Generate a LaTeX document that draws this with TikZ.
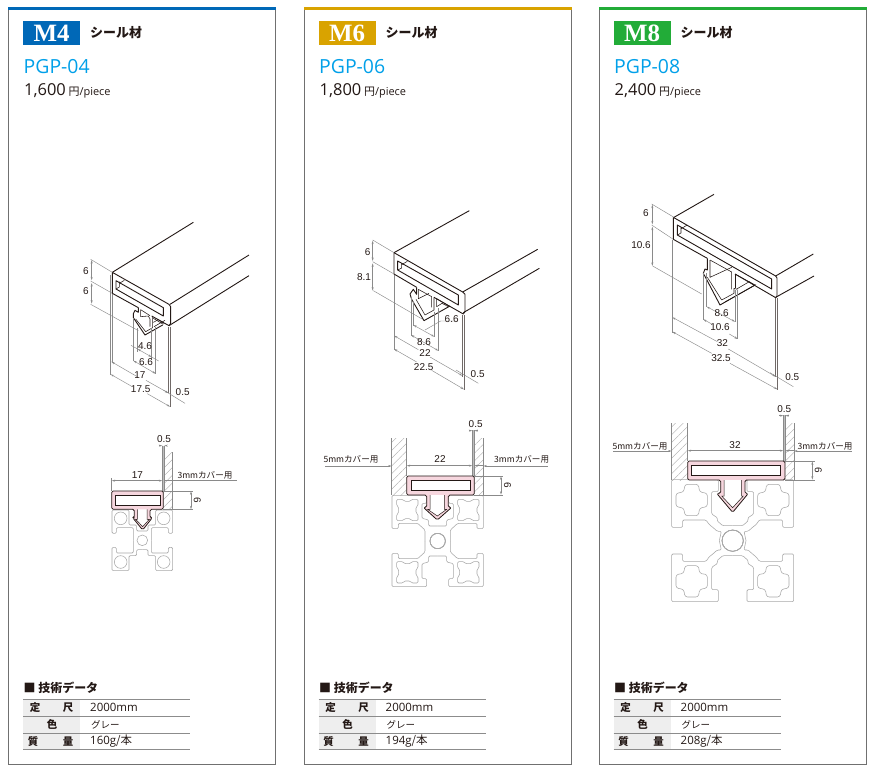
\documentclass[tikz,border=0pt]{standalone}
\usepackage{fontspec}
\setmainfont{Liberation Sans}
\newfontfamily\cjkf{Noto Sans CJK JP}
\newfontfamily\serf{Liberation Serif}
\newfontfamily\numf{Open Sans}
\usetikzlibrary{arrows.meta,patterns.meta}
\definecolor{inkc}{HTML}{231815}
\definecolor{dimc}{HTML}{8A8A8A}
\definecolor{hatchc}{HTML}{A6A6A6}
\definecolor{profc}{HTML}{A8A8A8}
\definecolor{sealc}{HTML}{F6D6DE}
\definecolor{framec}{HTML}{707070}
\definecolor{pgpc}{HTML}{00A0E9}
\definecolor{rulec}{HTML}{8C8C8C}
\definecolor{cellc}{HTML}{EEEEEE}
\definecolor{stripc}{HTML}{BDBDBD}
\definecolor{mfour}{HTML}{0068B7}
\definecolor{msix}{HTML}{D9A300}
\definecolor{meight}{HTML}{22AC38}
\tikzset{
 outl/.style={draw=inkc,line width=.9bp,line join=round},
 thin ink/.style={draw=inkc,line width=.55bp,line join=round},
 dimln/.style={draw=dimc,line width=.45bp,>={Stealth[length=3.5bp,width=2bp]}},
 heavydim/.style={draw=inkc!65,line width=.8bp},
 prof/.style={draw=profc,line width=.55bp,rounded corners=1.2bp},
 seal/.style={fill=sealc,draw=inkc,line width=.8bp,line join=round},
 hole/.style={fill=white,draw=inkc,line width=.5bp},
 cover/.style={pattern={Lines[angle=45,distance=5.5bp,line width=.35bp]},pattern color=hatchc},
 dimt/.style={font=\fontsize{10}{11}\selectfont,text=inkc,inner sep=0pt},
 covt/.style={font=\fontsize{8.6}{10}\selectfont\cjkf,text=inkc,inner sep=0pt},
 cellt/.style={font=\fontsize{10.5}{11}\selectfont\cjkf\bfseries,text=inkc,inner sep=0pt},
 valt/.style={font=\fontsize{11.5}{12}\selectfont\numf,text=inkc,inner sep=0pt,anchor=west},
}
% #1 prefix #2 dx #3 colour #4 M #5 PGP #6 price #7 mass
\newcommand{\panelbox}[7]{%
\begin{scope}[shift={(#2,0)}]
 \draw[framec,line width=.9bp] (8.8,8) rectangle (275.6,764.5);
 \fill[#3] (8.3,7) rectangle (276,10);
 \node[fill=#3,minimum width=57bp,minimum height=24bp,inner sep=0pt,text=white,font=\fontsize{25}{26}\selectfont\serf\bfseries,anchor=north west] (#1badge) at (23,21) {#4};
 \node[anchor=west,inner sep=0pt,text=inkc,font=\fontsize{13}{14}\selectfont\cjkf\bfseries] (#1kind) at (90,33) {シール材};
 \node[anchor=west,inner sep=0pt,text=pgpc,font=\fontsize{19.5}{22}\selectfont\numf] (#1pgp) at (23.5,67) {#5};
 \node[anchor=west,inner sep=0pt,text=inkc,font=\fontsize{16.5}{18}\selectfont\numf] (#1price) at (24,91) {#6\,{\fontsize{11}{12}\selectfont\cjkf 円}{\fontsize{11}{12}\selectfont/piece}};
 \node[anchor=west,inner sep=0pt,text=inkc,font=\fontsize{12}{13}\selectfont\cjkf\bfseries] (#1tech) at (23.5,688) {■ 技術データ};
 \fill[cellc] (23,699.5) rectangle (80,750);
 \foreach \yy in {699.5,716.2,733,749.8} \draw[rulec,line width=.7bp] (23,\yy) -- (190,\yy);
 \node[cellt] (#1a1) at (35,707.8) {定};
 \node[cellt] (#1a2) at (68,707.8) {尺};
 \node[cellt] (#1b1) at (52,724.6) {色};
 \node[cellt] (#1c1) at (33,741.4) {質};
 \node[cellt] (#1c2) at (68,741.4) {量};
 \node[valt] (#1v1) at (90,707.8) {2000mm};
 \node[valt,font=\fontsize{9.5}{11}\selectfont\cjkf] (#1v2) at (91,724.6) {グレー};
 \node[valt] (#1v3) at (90,741.4) {#7{\cjkf /本}};
\end{scope}}
\newcommand{\bonepocket}[2]{%
 \draw[prof,shift={(#1,#2)}] (-32,-32)--(-13,-32)--(-9,-26)--(9,-26)--(13,-32)--(32,-32)--(32,-13)--(26,-9)--(26,9)--(32,13)--(32,32)--(13,32)--(9,26)--(-9,26)--(-13,32)--(-32,32)--(-32,13)--(-26,9)--(-26,-9)--(-32,-13)--cycle;}
\newcommand{\pluspocket}[2]{%
 \draw[prof,rounded corners=2.5bp,shift={(#1,#2)}] (-20,-47)--(20,-47)--(24,-24)--(47,-20)--(47,20)--(24,24)--(20,47)--(-20,47)--(-24,24)--(-47,20)--(-47,-20)--(-24,-24)--cycle;}
\begin{document}
\begin{tikzpicture}[x=1bp,y=-1bp]
\useasboundingbox (0,0) rectangle (875,772);
\fill[white] (0,0) rectangle (875,772);
\panelbox{a}{0}{mfour}{M4}{PGP-04}{1,600}{160g}
\panelbox{b}{295.5}{msix}{M6}{PGP-06}{1,800}{194g}
\panelbox{c}{590.5}{meight}{M8}{PGP-08}{2,400}{208g}

%%%%%%%% ISO M4
\begin{scope}[shift={(70,215)},scale=.33333]
 \draw[outl] (370,22)--(127,172);
 \draw[outl] (537,120)--(300,268);
 \draw[outl] (537,182)--(297,332);
 \draw[outl] (127,172)--(297,268)--(302,275)--(302,325)--(297,332)--(245,303);
 \draw[outl] (205,278)--(127,235)--(127,172);
 \draw[outl] (138,197)--(280,278)--(280,303)--(138,222)--cycle;
 \draw[thin ink] (138,222)--(148,216)--(148,200);
 \draw[thin ink] (148,205)--(163,196);
 \draw[outl] (205,278)--(205,292)--(195,286)--(190,296)--(190,308)--(225,360)--(278,330);
 \draw[thin ink] (197,312)--(227,350)--(248,338)--(248,305);
 \draw[thin ink] (212,284)--(212,305)--(235,303)--(240,312)--(240,335);
 \draw[thin ink] (212,284)--(240,302);
 \draw[thin ink] (250,310)--(280,328);
 \draw[thin ink] (250,322)--(265,314)--(282,325);
 \draw[thin ink] (252,335)--(285,316);
 % dims
 \draw[dimln] (62,133)--(127,172);
 \draw[dimln] (62,198)--(127,235);
 \draw[dimln] (62,268)--(205,347);
 \draw[dimln,<->] (65,135)--(65,196);
 \draw[dimln,<->] (65,204)--(65,266);
 \draw[dimln] (122,180)--(122,480);
 \draw[dimln] (127,238)--(127,440);
 \draw[heavydim] (295,335)--(295,535);
 \draw[heavydim] (300,335)--(300,575);
 \draw[dimln] (190,310)--(190,438);
 \draw[dimln] (203,340)--(203,410);
 \draw[dimln] (245,340)--(245,435);
 \draw[dimln] (257,335)--(257,478);
 \draw[dimln,<->] (203,402)--(245,426);
 \draw[dimln] (183,391)--(203,402) (245,426)--(266,438);
 \draw[dimln,<->] (190,437)--(257,476);
 \draw[dimln,<-] (124,440)--(200,484);
 \draw[dimln,<-] (295,534)--(228,496);
 \draw[dimln,<-] (122,478)--(185,514);
 \draw[dimln,<-] (300,575)--(232,536);
 \draw[dimln] (280,525)--(345,565);
 \node[dimt] (a4) at (48,168) {6};
 \node[dimt] (a5) at (48,228) {6};
 \node[dimt] (a6) at (225,392) {4.6};
 \node[dimt] (a7) at (228,440) {6.6};
 \node[dimt] (a8) at (210,481) {17};
 \node[dimt] (a9) at (212,522) {17.5};
 \node[dimt] (a10) at (338,530) {0.5};
\end{scope}

%%%%%%%% ISO M6
\begin{scope}[shift={(350,200)},scale=.33333]
 \draw[outl] (358,32)--(132,158);
 \draw[outl] (563,148)--(338,276);
 \draw[outl] (568,205)--(340,338);
 \draw[outl] (132,158)--(338,276)--(345,283)--(345,335)--(340,342)--(252,292);
 \draw[outl] (200,262)--(132,222)--(132,158);
 \draw[outl] (143,183)--(325,285)--(325,315)--(143,210)--cycle;
 \draw[thin ink] (143,210)--(155,204)--(155,190);
 \draw[thin ink] (155,194)--(172,184);
 \draw[outl] (200,262)--(200,283)--(190,268)--(180,282)--(185,298)--(222,362)--(300,318);
 \draw[thin ink] (198,298)--(225,345)--(252,330)--(252,292);
 \draw[thin ink] (205,268)--(245,290)--(245,322);
 \draw[thin ink] (205,268)--(205,296)--(237,280);
 \draw[thin ink] (260,296)--(260,320)--(276,310)--(295,320);
 \draw[thin ink] (260,296)--(300,320);
 % dims
 \draw[dimln] (68,120)--(132,158);
 \draw[dimln] (68,185)--(132,222);
 \draw[dimln] (70,272)--(218,358);
 \draw[dimln,<->] (68,122)--(68,183);
 \draw[dimln,<->] (68,190)--(68,272);
 \draw[dimln] (132,225)--(132,450);
 \draw[heavydim] (337,345)--(337,530);
 \draw[heavydim] (342,345)--(342,570);
 \draw[dimln] (183,292)--(183,408);
 \draw[dimln] (190,305)--(190,378);
 \draw[dimln] (253,335)--(253,410);
 \draw[dimln] (265,325)--(265,452);
 \draw[dimln,<->] (190,375)--(253,410);
 \draw[dimln] (225,390)--(272,363)--(320,363);
 \draw[dimln,<->] (183,405)--(265,452);
 \draw[dimln,<-] (132,407)--(205,449);
 \draw[dimln,<-] (337,527)--(240,471);
 \draw[dimln,<-] (132,447)--(200,486);
 \draw[dimln,<-] (342,568)--(245,511);
 \draw[dimln] (318,510)--(385,550);
 \node[dimt] (b4) at (53,155) {6};
 \node[dimt] (b5) at (42,230) {8.1};
 \node[dimt] (b6) at (305,356) {6.6};
 \node[dimt] (b7) at (222,425) {8.6};
 \node[dimt] (b8) at (225,458) {22};
 \node[dimt] (b9) at (221,500) {22.5};
 \node[dimt] (b10) at (383,521) {0.5};
\end{scope}

%%%%%%%% ISO M8
\begin{scope}[shift={(630,190)},scale=.33333]
 \draw[outl] (252,13)--(132,82);
 \draw[outl] (550,192)--(437,258);
 \draw[outl] (552,258)--(437,322);
 \draw[outl] (130,82)--(437,258)--(441,264)--(441,318)--(437,323)--(315,252);
 \draw[outl] (232,205)--(130,148)--(130,82);
 \draw[outl] (142,105)--(425,267)--(425,297)--(142,135)--cycle;
 \draw[thin ink] (142,135)--(153,129)--(153,112);
 \draw[thin ink] (153,116)--(172,105);
 \draw[outl] (232,205)--(232,240)--(225,237)--(220,250)--(228,265)--(270,345)--(375,285);
 \draw[thin ink] (232,262)--(275,330)--(312,310)--(312,295)--(322,298);
 \draw[thin ink] (240,210)--(240,262)--(305,232);
 \draw[thin ink] (240,210)--(305,246)--(305,298);
 \draw[thin ink] (315,252)--(315,295);
 \draw[thin ink] (315,252)--(375,285);
 \draw[thin ink] (320,297)--(358,275)--(372,285);
 \draw[thin ink] (285,336)--(378,284);
 % dims
 \draw[dimln] (65,42)--(132,82);
 \draw[dimln] (65,105)--(130,148);
 \draw[dimln] (68,228)--(215,312);
 \draw[dimln,<->] (67,44)--(67,103);
 \draw[dimln,<->] (67,110)--(67,228);
 \draw[dimln] (127,150)--(127,428);
 \draw[heavydim] (437,325)--(437,560);
 \draw[heavydim] (442,325)--(442,600);
 \draw[dimln] (230,250)--(230,352);
 \draw[dimln] (220,250)--(220,390);
 \draw[dimln] (315,300)--(315,395);
 \draw[dimln] (323,300)--(323,448);
 \draw[dimln,<->] (230,350)--(315,395);
 \draw[dimln,<-] (220,388)--(245,402);
 \draw[dimln,<-] (323,447)--(298,432);
 \draw[dimln,<-] (127,382)--(262,455);
 \draw[dimln,<-] (437,560)--(295,477);
 \draw[dimln,<-] (127,425)--(245,490);
 \draw[dimln,<-] (442,598)--(300,520);
 \draw[dimln] (420,548)--(490,590);
 \node[dimt] (c4) at (48,70) {6};
 \node[dimt] (c5) at (33,165) {10.6};
 \node[dimt] (c6) at (275,368) {8.6};
 \node[dimt] (c7) at (270,412) {10.6};
 \node[dimt] (c8) at (277,460) {32};
 \node[dimt] (c9) at (273,503) {32.5};
 \node[dimt] (c10) at (487,560) {0.5};
\end{scope}

%%%%%%%% SECTION M4
\begin{scope}[shift={(80,425)},scale=.33333]
 \foreach \sx/\sy in {1/1,-1/1,1/-1,-1/-1}
  \draw[prof,shift={(187,346)},xscale=\sx,yscale=\sy] (0,-28)--(17,-28)--(17,-46)--(40,-46)--(40,-91)--(91,-91)--(91,-21)--(78,-21)--(78,-38)--(27,-38)--(27,0);
 \foreach \cx/\cy in {122/280,251/280,122/411,251/411} \draw[prof] (\cx,\cy) circle (19);
 \draw[prof] (187,346) circle (16);
 \fill[cover] (250,82) rectangle (278,252);
 \fill[stripc] (247,62) rectangle (253,198);
 \draw[dimln] (278,82)--(278,252);
 \draw[dimln] (247,62)--(247,198);
 \draw[dimln] (253,62)--(253,198);
 \draw[seal,rounded corners=1.5bp] (95,198)--(250,198)--(250,253)--(210,253)--(210,278)--(217,278)--(188,315)--(158,278)--(163,278)--(163,253)--(95,253)--cycle;
 \draw[hole] (107,211) rectangle (240,240);
 \draw[hole] (172,253)--(172,283)--(167,283)--(188,305)--(208,283)--(201,283)--(201,253);
 \draw[dimln,<->] (95,167)--(247,167);
 \draw[dimln] (93,160)--(93,198);
 \draw[dimln] (253,167)--(470,167);
 \draw[dimln,<-] (247,62)--(238,62);
 \draw[dimln,<-] (253,62)--(262,62);
 \draw[dimln] (250,198)--(340,198) (250,254)--(340,254);
 \draw[dimln,<->] (333,199)--(333,253);
 \node[dimt] (a11) at (252,42) {0.5};
 \node[dimt] (a12) at (172,150) {17};
 \node[covt] (a13) at (375,150) {3mmカバー用};
 \node[dimt,rotate=-90] (a14) at (352,226) {6};
\end{scope}

%%%%%%%% SECTION M6
\begin{scope}[shift={(315,410)},scale=.33333]
 \foreach \sx/\sy in {1/1,-1/1,1/-1,-1/-1}
  \draw[prof,shift={(368,393)},xscale=\sx,yscale=\sy] (0,-45)--(27,-45)--(27,-63)--(47,-68)--(47,-113)--(33,-113)--(33,-137)--(137,-137)--(137,-37)--(118,-37)--(118,-53)--(60,-53)--(38,-33)--(38,0);
 \foreach \cx/\cy in {277/300,460/300,277/487,460/487} \bonepocket{\cx}{\cy}
 \draw[prof] (368,393) circle (23);
 \fill[cover] (230,85) rectangle (275,255);
 \fill[cover] (478,85) rectangle (505,255);
 \fill[stripc] (472,60) rectangle (478,198);
 \draw[dimln] (230,85)--(230,255) (275,85)--(275,198) (505,85)--(505,255);
 \draw[dimln] (472,60)--(472,198) (478,60)--(478,198);
 \draw[seal,rounded corners=1.5bp] (275,198)--(478,198)--(478,255)--(400,255)--(400,292)--(410,292)--(367,330)--(325,292)--(335,292)--(335,255)--(275,255)--cycle;
 \draw[hole] (290,212) rectangle (465,240);
 \draw[hole] (345,255)--(345,298)--(338,298)--(367,318)--(395,298)--(388,298)--(388,255);
 \draw[dimln,<->] (275,167)--(472,167);
 \draw[dimln,<-] (230,168)--(30,168);
 \draw[dimln,<-] (478,167)--(505,167);
 \draw[dimln,<-] (505,168)--(700,168);
 \draw[dimln,<-] (472,62)--(462,62);
 \draw[dimln,<-] (478,62)--(490,62);
 \draw[dimln] (478,198)--(565,198) (478,255)--(565,255);
 \draw[dimln,<->] (558,199)--(558,254);
 \node[dimt] (b11) at (482,42) {0.5};
 \node[dimt] (b12) at (375,147) {22};
 \node[covt] (b13) at (108,148) {5mmカバー用};
 \node[covt] (b14) at (620,148) {3mmカバー用};
 \node[dimt,rotate=-90] (b15) at (578,226) {6};
\end{scope}

%%%%%%%% SECTION M8
\begin{scope}[shift={(610,395)},scale=.33333]
 \foreach \sx/\sy in {1/1,-1/1,1/-1,-1/-1}
  \draw[prof,shift={(368,437)},xscale=\sx,yscale=\sy] (0,-45)--(30,-45)--(47,-60)--(45,-68)--(63,-80)--(63,-147)--(43,-147)--(43,-183)--(183,-183)--(183,-40)--(150,-40)--(150,-62)--(80,-62)--(70,-48)--(62,-42)--(46,-28)--(34,-28)--(40,0);
 \foreach \cx/\cy in {245/315,490/315,245/559,490/559} \pluspocket{\cx}{\cy}
 \draw[prof] (368,437) circle (32);
 \fill[cover] (185,85) rectangle (233,255);
 \fill[cover] (525,85) rectangle (552,255);
 \fill[stripc] (520,60) rectangle (526,198);
 \draw[dimln] (185,85)--(185,255) (233,85)--(233,198) (552,85)--(552,255);
 \draw[dimln] (520,60)--(520,198) (526,60)--(526,198);
 \draw[seal,rounded corners=1.5bp] (233,198)--(525,198)--(525,255)--(405,255)--(405,295)--(415,295)--(368,352)--(320,295)--(332,295)--(332,255)--(233,255)--cycle;
 \draw[hole] (245,212) rectangle (510,240);
 \draw[hole] (342,255)--(342,303)--(335,303)--(368,338)--(400,303)--(395,303)--(395,255);
 \draw[dimln,<->] (233,167)--(520,167);
 \draw[dimln,<-] (185,168)--(10,168);
 \draw[dimln,<-] (526,167)--(552,167);
 \draw[dimln,<-] (552,168)--(725,168);
 \draw[dimln,<-] (520,62)--(508,62);
 \draw[dimln,<-] (526,62)--(538,62);
 \draw[dimln] (525,198)--(615,198) (525,255)--(615,255);
 \draw[dimln,<->] (607,199)--(607,254);
 \node[dimt] (c11) at (523,42) {0.5};
 \node[dimt] (c12) at (375,150) {32};
 \node[covt] (c13) at (90,153) {5mmカバー用};
 \node[covt] (c14) at (645,153) {3mmカバー用};
 \node[dimt,rotate=-90] (c15) at (625,226) {6};
\end{scope}
\end{tikzpicture}
\end{document}
